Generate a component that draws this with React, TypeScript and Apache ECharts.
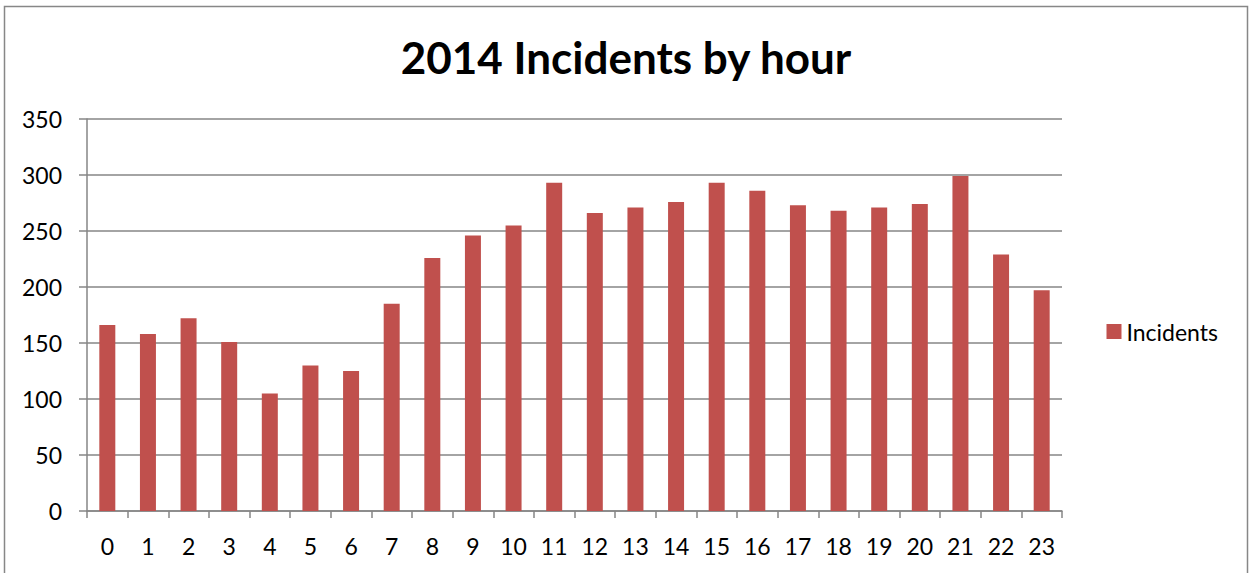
import React, { useEffect, useRef } from "react";
import * as echarts from "echarts";

const hours = ["0","1","2","3","4","5","6","7","8","9","10","11","12","13","14","15","16","17","18","19","20","21","22","23"];
const incidents = [166,158,172,151,105,130,125,185,226,246,255,293,266,271,276,293,286,273,268,271,274,299,229,197];
const seriesName = "Incidents";
const titleText = "2014 Incidents by hour";

export default function App() {
  const ref = useRef<HTMLDivElement>(null);
  useEffect(() => {
    document.body.style.margin = "0";
    const chart = echarts.init(ref.current!, null, { renderer: "svg" });
    const font = "Lato, 'Open Sans', sans-serif";
    chart.setOption({
      animation: false,
      backgroundColor: "#ffffff",
      title: {
        text: titleText,
        left: "center",
        top: 30,
        textStyle: { fontFamily: font, fontWeight: "bold", fontSize: 44, color: "#000" },
      },
      legend: {
        data: [seriesName],
        right: 29,
        top: 315,
        orient: "vertical",
        itemWidth: 15,
        itemHeight: 15,
        itemGap: 6,
        icon: "rect",
        textStyle: { fontFamily: font, fontSize: 23, color: "#000" },
      },
      graphic: [
        {
          type: "rect",
          shape: { x: 4.5, y: 6.5, width: 1243, height: 575 },
          style: { fill: "none", stroke: "#878787", lineWidth: 1.5 },
          silent: true,
        },
      ],
      grid: { left: 87, right: 190, top: 119, bottom: 62, containLabel: false },
      xAxis: {
        type: "category",
        data: hours,
        boundaryGap: true,
        axisLine: { lineStyle: { color: "#868686", width: 1.5 } },
        axisTick: { show: true, length: 7, alignWithLabel: false, lineStyle: { color: "#868686", width: 1.5 } },
        axisLabel: { fontFamily: font, fontSize: 23, color: "#000", margin: 23 },
      },
      yAxis: {
        type: "value",
        min: 0,
        max: 350,
        interval: 50,
        axisLine: { show: true, lineStyle: { color: "#868686", width: 1.5 } },
        axisTick: { show: true, length: 8, lineStyle: { color: "#868686", width: 1.5 } },
        axisLabel: { fontFamily: font, fontSize: 23, color: "#000", margin: 25 },
        splitLine: { show: true, lineStyle: { color: "#868686", width: 1.5 } },
      },
      series: [
        {
          name: seriesName,
          type: "bar",
          data: incidents,
          barWidth: 16,
          itemStyle: { color: "#c0504d" },
        },
      ],
    });
    return () => chart.dispose();
  }, []);
  return <div ref={ref} style={{ position: "absolute", left: 0, top: 0, width: 1252, height: 573 }} />;
}
